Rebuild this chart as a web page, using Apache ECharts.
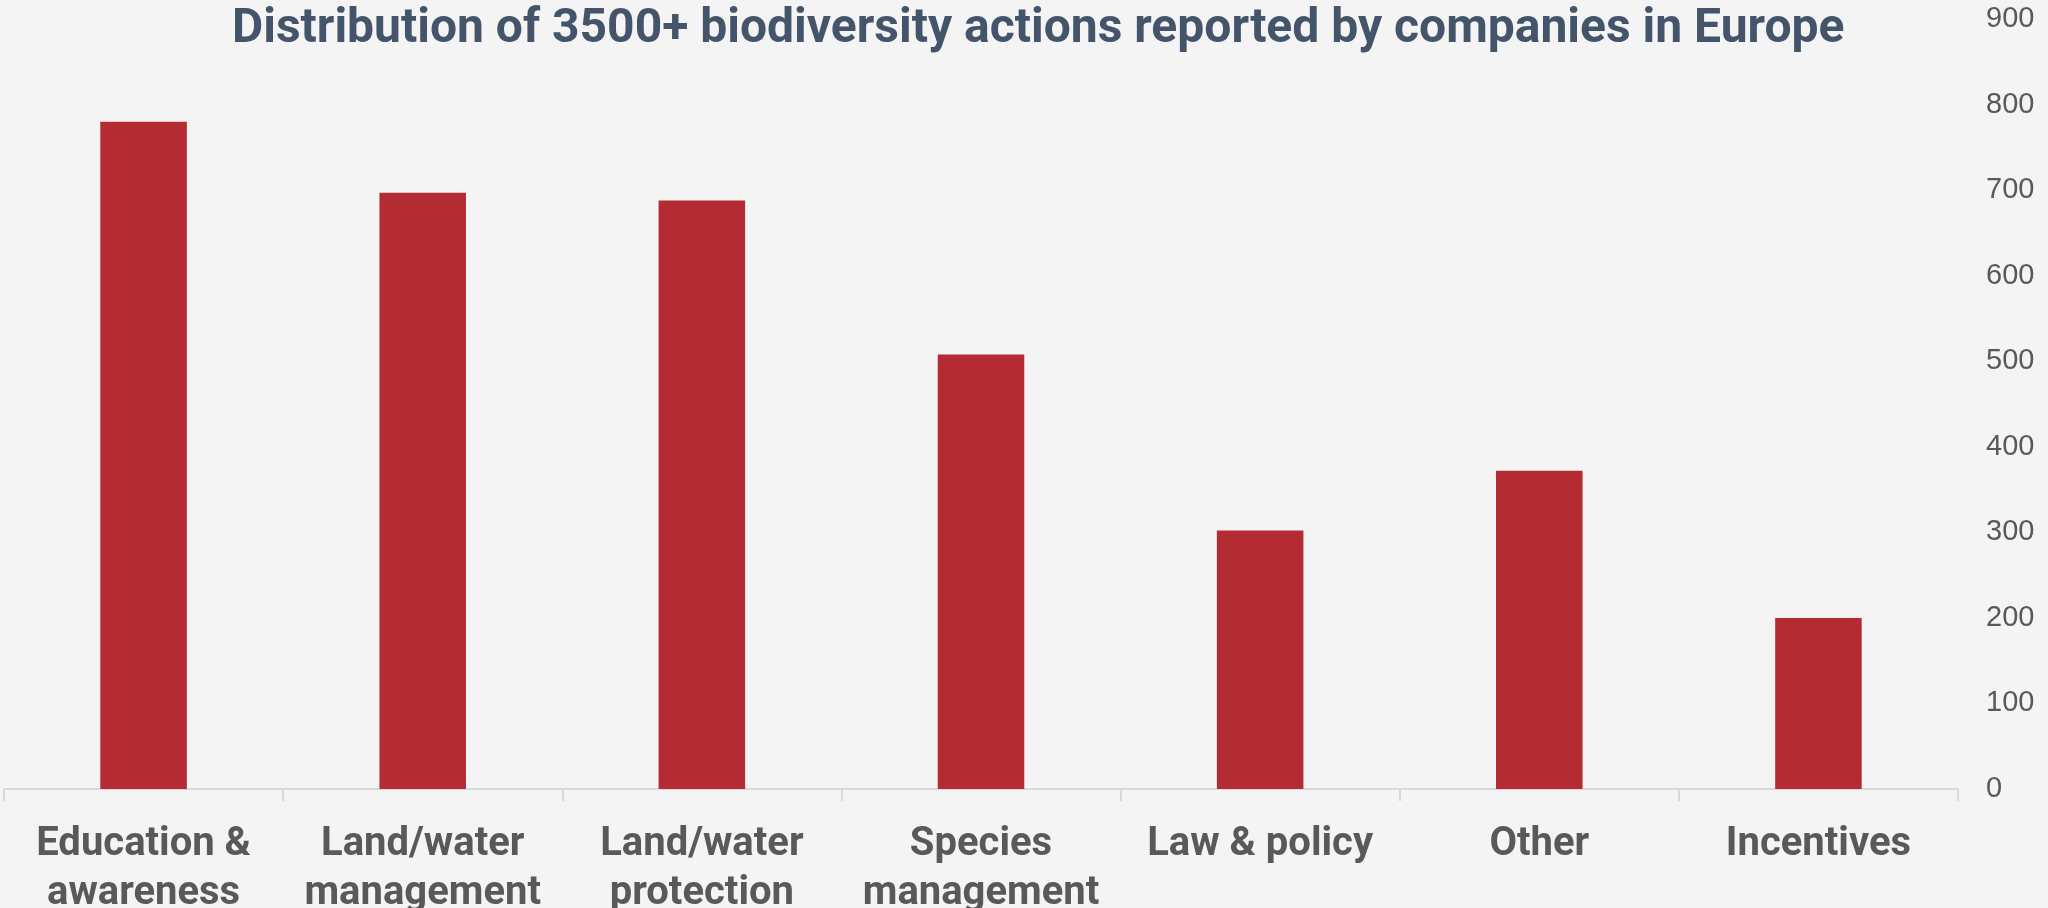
<!DOCTYPE html>
<html>
<head>
<meta charset="utf-8">
<script src="https://cdn.jsdelivr.net/npm/echarts@6/dist/echarts.min.js"></script>
<style>
  html, body { margin: 0; padding: 0; background: #f4f4f4; }
  #chart { width: 2048px; height: 908px; }
</style>
</head>
<body>
<div id="chart"></div>
<script>
  // categories and values
  var categories = ['Education &\nawareness', 'Land/water\nmanagement', 'Land/water\nprotection',
    'Species\nmanagement', 'Law & policy', 'Other', 'Incentives'];
  var actions = [780, 697, 688, 508, 302, 372, 200];
  var yTicks = { min: 0, max: 900, step: 100 };

  var chart = echarts.init(document.getElementById('chart'));
  chart.setOption({
    backgroundColor: '#f4f4f4',
    animation: false,
    title: {
      text: 'Distribution of 3500+ biodiversity actions reported by companies in Europe',
      left: 227,
      top: 1,
      textStyle: {
        fontFamily: 'Roboto',
        fontWeight: 'bold',
        fontSize: 48,
        color: '#44546a'
      }
    },
    grid: {
      left: 4,
      right: 90,
      top: 19,
      bottom: 119,
      containLabel: false,
      outerBoundsMode: 'none'
    },
    xAxis: {
      type: 'category',
      data: categories,
      axisLine: { lineStyle: { color: '#d9d9d9', width: 2 } },
      axisTick: { show: true, interval: 0, length: 12, lineStyle: { color: '#d9d9d9', width: 2 } },
      axisLabel: {
        interval: 0,
        margin: 31,
        fontFamily: 'Roboto',
        fontWeight: 'bold',
        fontSize: 40,
        lineHeight: 49,
        color: '#595959'
      }
    },
    yAxis: {
      type: 'value',
      position: 'right',
      min: yTicks.min,
      max: yTicks.max,
      interval: yTicks.step,
      splitLine: { show: false },
      axisLine: { show: false },
      axisTick: { show: false },
      axisLabel: {
        margin: 28,
        fontFamily: 'Liberation Sans',
        fontSize: 29,
        color: '#595959'
      }
    },
    series: [{
      type: 'bar',
      data: actions,
      barWidth: '31%',
      itemStyle: { color: '#b52b33' }
    }]
  });
</script>
</body>
</html>
